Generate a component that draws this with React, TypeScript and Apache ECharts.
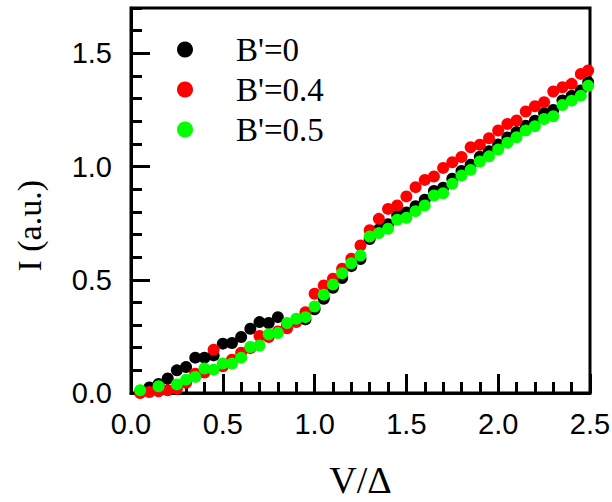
import React, { useEffect, useRef } from "react";
import * as echarts from "echarts";

const seriesNames = ["B'=0", "B'=0.4", "B'=0.5"];
const seriesColors = ["#000000", "#ff0000", "#00ff00"];

const xTicks = ["0.0", "0.5", "1.0", "1.5", "2.0", "2.5"];
const yTicks = ["0.0", "0.5", "1.0", "1.5"];

const blackPts: [number, number][] = [
  [0.05, 0.005], [0.1, 0.024], [0.15, 0.04], [0.2, 0.064], [0.25, 0.1], [0.3, 0.115],
  [0.35, 0.156], [0.4, 0.156], [0.45, 0.166], [0.5, 0.218], [0.55, 0.221], [0.6, 0.247],
  [0.65, 0.284], [0.7, 0.313], [0.75, 0.309], [0.8, 0.335], [0.85, 0.3], [0.9, 0.318],
  [0.95, 0.325], [1.0, 0.37], [1.05, 0.416], [1.1, 0.465], [1.15, 0.508], [1.2, 0.56],
  [1.25, 0.592], [1.3, 0.68], [1.35, 0.722], [1.4, 0.745], [1.45, 0.785], [1.5, 0.797],
  [1.55, 0.825], [1.6, 0.853], [1.65, 0.892], [1.7, 0.906], [1.75, 0.946], [1.8, 0.98],
  [1.85, 1.008], [1.9, 1.043], [1.95, 1.068], [2.0, 1.097], [2.05, 1.128], [2.1, 1.152],
  [2.15, 1.18], [2.2, 1.202], [2.25, 1.236], [2.3, 1.25], [2.35, 1.292], [2.4, 1.312],
  [2.45, 1.336], [2.49, 1.372],
];

const redPts: [number, number][] = [
  [0.05, 0.0], [0.1, 0.004], [0.15, 0.008], [0.2, 0.012], [0.25, 0.018], [0.3, 0.045],
  [0.35, 0.085], [0.4, 0.09], [0.45, 0.191], [0.5, 0.118], [0.55, 0.147], [0.6, 0.178],
  [0.65, 0.198], [0.7, 0.252], [0.75, 0.247], [0.8, 0.272], [0.85, 0.286], [0.9, 0.313],
  [0.95, 0.357], [1.0, 0.438], [1.05, 0.475], [1.1, 0.505], [1.15, 0.549], [1.2, 0.593],
  [1.25, 0.651], [1.3, 0.719], [1.35, 0.769], [1.4, 0.813], [1.45, 0.828], [1.5, 0.868],
  [1.55, 0.909], [1.6, 0.941], [1.65, 0.956], [1.7, 0.994], [1.75, 1.019], [1.8, 1.042],
  [1.85, 1.085], [1.9, 1.096], [1.95, 1.125], [2.0, 1.159], [2.05, 1.188], [2.1, 1.203],
  [2.15, 1.243], [2.2, 1.266], [2.25, 1.284], [2.3, 1.331], [2.35, 1.35], [2.4, 1.365],
  [2.45, 1.409], [2.49, 1.424],
];

const greenPts: [number, number][] = [
  [0.05, 0.012], [0.15, 0.03], [0.25, 0.038], [0.3, 0.059], [0.35, 0.071], [0.4, 0.108],
  [0.45, 0.103], [0.5, 0.13], [0.55, 0.13], [0.6, 0.156], [0.65, 0.203], [0.7, 0.21],
  [0.75, 0.259], [0.8, 0.265], [0.85, 0.309], [0.9, 0.328], [0.95, 0.335], [1.0, 0.382],
  [1.05, 0.434], [1.1, 0.479], [1.15, 0.529], [1.2, 0.573], [1.25, 0.607], [1.3, 0.691],
  [1.35, 0.706], [1.4, 0.725], [1.45, 0.765], [1.5, 0.774], [1.55, 0.803], [1.6, 0.828],
  [1.65, 0.872], [1.7, 0.882], [1.75, 0.924], [1.8, 0.96], [1.85, 0.985], [1.9, 1.022],
  [1.95, 1.045], [2.0, 1.075], [2.05, 1.105], [2.1, 1.129], [2.15, 1.159], [2.2, 1.178],
  [2.25, 1.21], [2.3, 1.222], [2.35, 1.272], [2.4, 1.291], [2.45, 1.313], [2.49, 1.357],
];

const allSeries = [blackPts, redPts, greenPts];

const SANS = "Liberation Sans";
const SERIF = "Liberation Serif";

export default function App() {
  const ref = useRef<HTMLDivElement>(null);
  useEffect(() => {
    if (!ref.current) return;
    const chart = echarts.init(ref.current, undefined, { renderer: "svg" });
    const fmt = (list: string[]) => (v: number) => {
      const s = v.toFixed(1);
      return list.includes(s) ? s : "";
    };
    chart.setOption({
      animation: false,
      backgroundColor: "#ffffff",
      grid: {
        left: 131,
        right: 22,
        top: 8,
        bottom: 109,
        containLabel: false,
        outerBoundsMode: "none",
        show: true,
        borderColor: "#000",
        borderWidth: 3,
        backgroundColor: "transparent",
      },
      legend: {
        orient: "vertical",
        left: 172,
        top: 28,
        padding: 5,
        icon: "circle",
        itemWidth: 16,
        itemHeight: 16,
        itemGap: 7,
        data: seriesNames,
        formatter: (name: string) => `{pad|}{txt|${name}}`,
        textStyle: {
          fontFamily: SERIF,
          fontSize: 33,
          color: "#000",
          lineHeight: 33,
          rich: {
            pad: { width: 38, height: 33 },
            txt: { fontFamily: SERIF, fontSize: 33, color: "#000", lineHeight: 33 },
          },
        },
      },
      xAxis: [
        {
          type: "value",
          min: 0,
          max: 2.5,
          interval: 0.5,
          name: "V/Δ",
          nameLocation: "middle",
          nameGap: 68,
          nameTextStyle: { fontFamily: SERIF, fontSize: 38, color: "#000", lineHeight: 38 },
          axisLine: { show: true, onZero: false, lineStyle: { color: "#000", width: 3 } },
          axisTick: { show: true, inside: true, length: 19, lineStyle: { color: "#000", width: 3 } },
          minorTick: { show: true, splitNumber: 5, length: 11, lineStyle: { color: "#000", width: 3 } },
          axisLabel: {
            fontFamily: SANS,
            fontSize: 29,
            color: "#000",
            margin: 16,
            formatter: fmt(xTicks),
          },
          splitLine: { show: false },
        },
      ],
      yAxis: [
        {
          type: "value",
          position: "left",
          min: 0,
          max: 1.7,
          interval: 0.5,
          axisLine: { show: true, onZero: false, lineStyle: { color: "#000", width: 3 } },
          axisTick: { show: true, inside: true, length: 19, lineStyle: { color: "#000", width: 3 } },
          axisLabel: {
            fontFamily: SANS,
            fontSize: 29,
            color: "#000",
            margin: 19,
            showMaxLabel: false,
            formatter: fmt(yTicks),
          },
          splitLine: { show: false },
        },
        {
          type: "value",
          position: "left",
          offset: 0,
          min: 0,
          max: 1.7,
          interval: 0.1,
          axisLine: { show: false },
          axisTick: { show: true, inside: true, length: 11, lineStyle: { color: "#000", width: 3 } },
          axisLabel: { show: false },
          splitLine: { show: false },
        },
      ],
      graphic: [
        {
          type: "text",
          left: 12,
          top: 180,
          rotation: Math.PI / 2,
          style: {
            text: "I (a.u.)",
            font: `34px "${SERIF}"`,
            fill: "#000",
            textAlign: "center",
            textVerticalAlign: "middle",
          },
        },
      ],
      series: allSeries.map((pts, i) => ({
        name: seriesNames[i],
        type: "scatter",
        xAxisIndex: 0,
        yAxisIndex: 0,
        data: pts,
        symbol: "circle",
        symbolSize: 12,
        itemStyle: { color: seriesColors[i], opacity: 1 },
        z: 2 + i,
      })),
    });
    return () => chart.dispose();
  }, []);
  return (
    <div
      ref={ref}
      style={{ position: "fixed", left: 0, top: 0, width: 612, height: 502 }}
    />
  );
}
